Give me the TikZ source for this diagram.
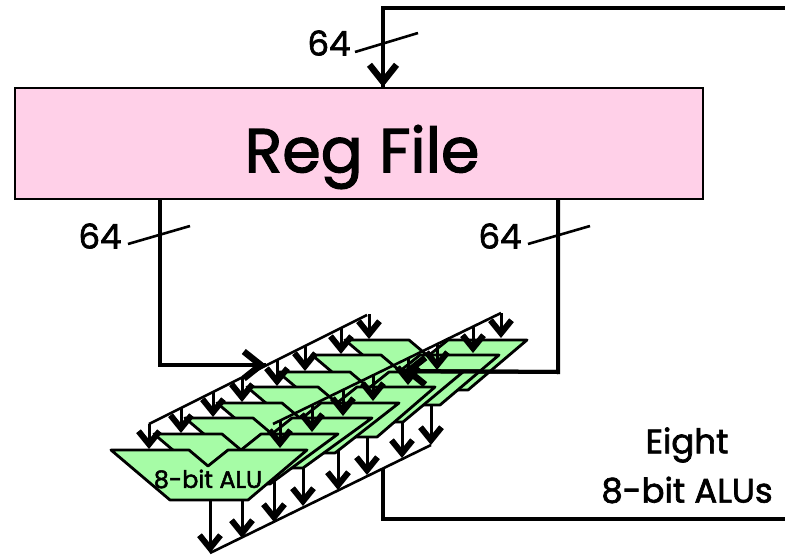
\documentclass[tikz,border=0pt]{standalone}
\usepackage{fontspec}
\setmainfont[FakeBold=2]{Poppins}
\usetikzlibrary{arrows.meta}
\definecolor{regpink}{RGB}{255,208,232}
\definecolor{alugreen}{RGB}{166,252,166}
\tikzset{
  wire/.style={line width=4pt},
  bigarrow/.style={wire,-{Straight Barb[length=17pt,width=27pt,line width=6.5pt]}},
  thinwire/.style={line width=2.6pt},
  smallarrow/.style={line width=3pt,-{Straight Barb[length=13pt,width=21pt,line width=6pt]}},
  alubody/.style={draw,line width=2.8pt,line join=round,fill=alugreen},
  biglabel/.style={font=\fontsize{34}{38}\selectfont,inner sep=0pt,align=center},
}

\begin{document}
\begin{tikzpicture}[x=1pt,y=-1pt]
  \useasboundingbox (0,0) rectangle (785,555);

  \node (reg) at (359,143.5) [draw,line width=2.6pt,fill=regpink,minimum width=688pt,minimum height=111pt,inner sep=0pt] {};
  \node (regtext) at (362,157) {\fontsize{62}{68}\selectfont Reg File};
  \node (taga) at (329,43) [biglabel] {64};
  \node (tagb) at (100,236) [biglabel] {64};
  \node (tagc) at (500,236) [biglabel] {64};
  \node (eight) at (687,445) [biglabel] {Eight};
  \node (eightb) at (687,490) [biglabel] {8-bit ALUs};

  \coordinate (ua) at (785,8);
  \coordinate (ub) at (383,8);
  \coordinate (uc) at (383,87);
  \coordinate (la) at (160,199);
  \coordinate (lb) at (160,365);
  \coordinate (lc) at (266,365);
  \coordinate (ra) at (558,199);
  \coordinate (rb) at (558,372);
  \coordinate (rc) at (403,371);
  \coordinate (oa) at (383,469);
  \coordinate (ob) at (383,519);
  \coordinate (oc) at (785,519);

  \coordinate (bla) at (149,424);
  \coordinate (blb) at (367,315);
  \coordinate (bra) at (273,424);
  \coordinate (brb) at (501,313);
  \coordinate (boa) at (210,553);
  \coordinate (bob) at (431,445);

  \coordinate (sa1) at (355,52);
  \coordinate (sa2) at (418,33);
  \coordinate (sb1) at (128,244);
  \coordinate (sb2) at (190,226);
  \coordinate (sc1) at (528,244);
  \coordinate (sc2) at (590,226);

  \draw [wire] (oa) -- (ob) -- (oc);
  \draw [thinwire] (boa) -- (bob);
  \draw [thinwire] (bla) -- (blb);
  \draw [wire] (la) -- (lb) -- (lc);
  \draw [bigarrow] (lb) -- (lc);

  % back to front
  \foreach \k/\xl/\yt/\xr/\xb/\xn/\xo/\yo/\xi in {
      7/345/340/527/468/409/431/445/369,
      6/312/355/499/440/381/402/458/341,
      5/278/372/463/403/350/367/475/305,
      4/247/387/435/377/318/338/490/277,
      3/217/403/399/335/282/303/506/242,
      2/185/418/372/303/253/274/522/213,
      1/154/434/338/270/222/242/538/181,
      0/111/450/307/248/189/210/553/149} {
    \coordinate (outa\k) at (\xo,\yt+40);
    \coordinate (outb\k) at (\xo,\yo);
    \draw [smallarrow] (outa\k) -- (outb\k);
    \draw [alubody] (\xl,\yt) -- (\xn,\yt) -- (\xn+19,\yt+16) -- (\xn+39,\yt) -- (\xr,\yt)
      -- (\xb,\yt+50) -- (\xl+59,\yt+50) -- cycle;
    \coordinate (ina\k) at (\xi,{424-(\xi-149)*0.5});
    \coordinate (tipa\k) at (\xi,\yt-1);
    \draw [smallarrow] (ina\k) -- (tipa\k);
  }
  \node (alu) at (208,479) {\fontsize{24}{28}\selectfont 8-bit ALU};

  \draw [thinwire] (bra) -- (brb);
  \foreach \k/\xi/\yt in {7/501/340,6/473/355,5/437/372,4/408/387,3/373/403,2/343/418,1/312/434,0/280/450} {
    \coordinate (inb\k) at (\xi,{313+(501-\xi)*0.487});
    \coordinate (tipb\k) at (\xi,\yt-2);
    \draw [smallarrow] (inb\k) -- (tipb\k);
  }

  \draw [wire] (ra) -- (rb) -- (rc);
  \draw [bigarrow] (rb) -- (rc);
  \draw [wire] (ua) -- (ub) -- (uc);
  \draw [bigarrow] (ub) -- (uc);
  \draw [thinwire] (sa1) -- (sa2);
  \draw [thinwire] (sb1) -- (sb2);
  \draw [thinwire] (sc1) -- (sc2);

\end{tikzpicture}
\end{document}
